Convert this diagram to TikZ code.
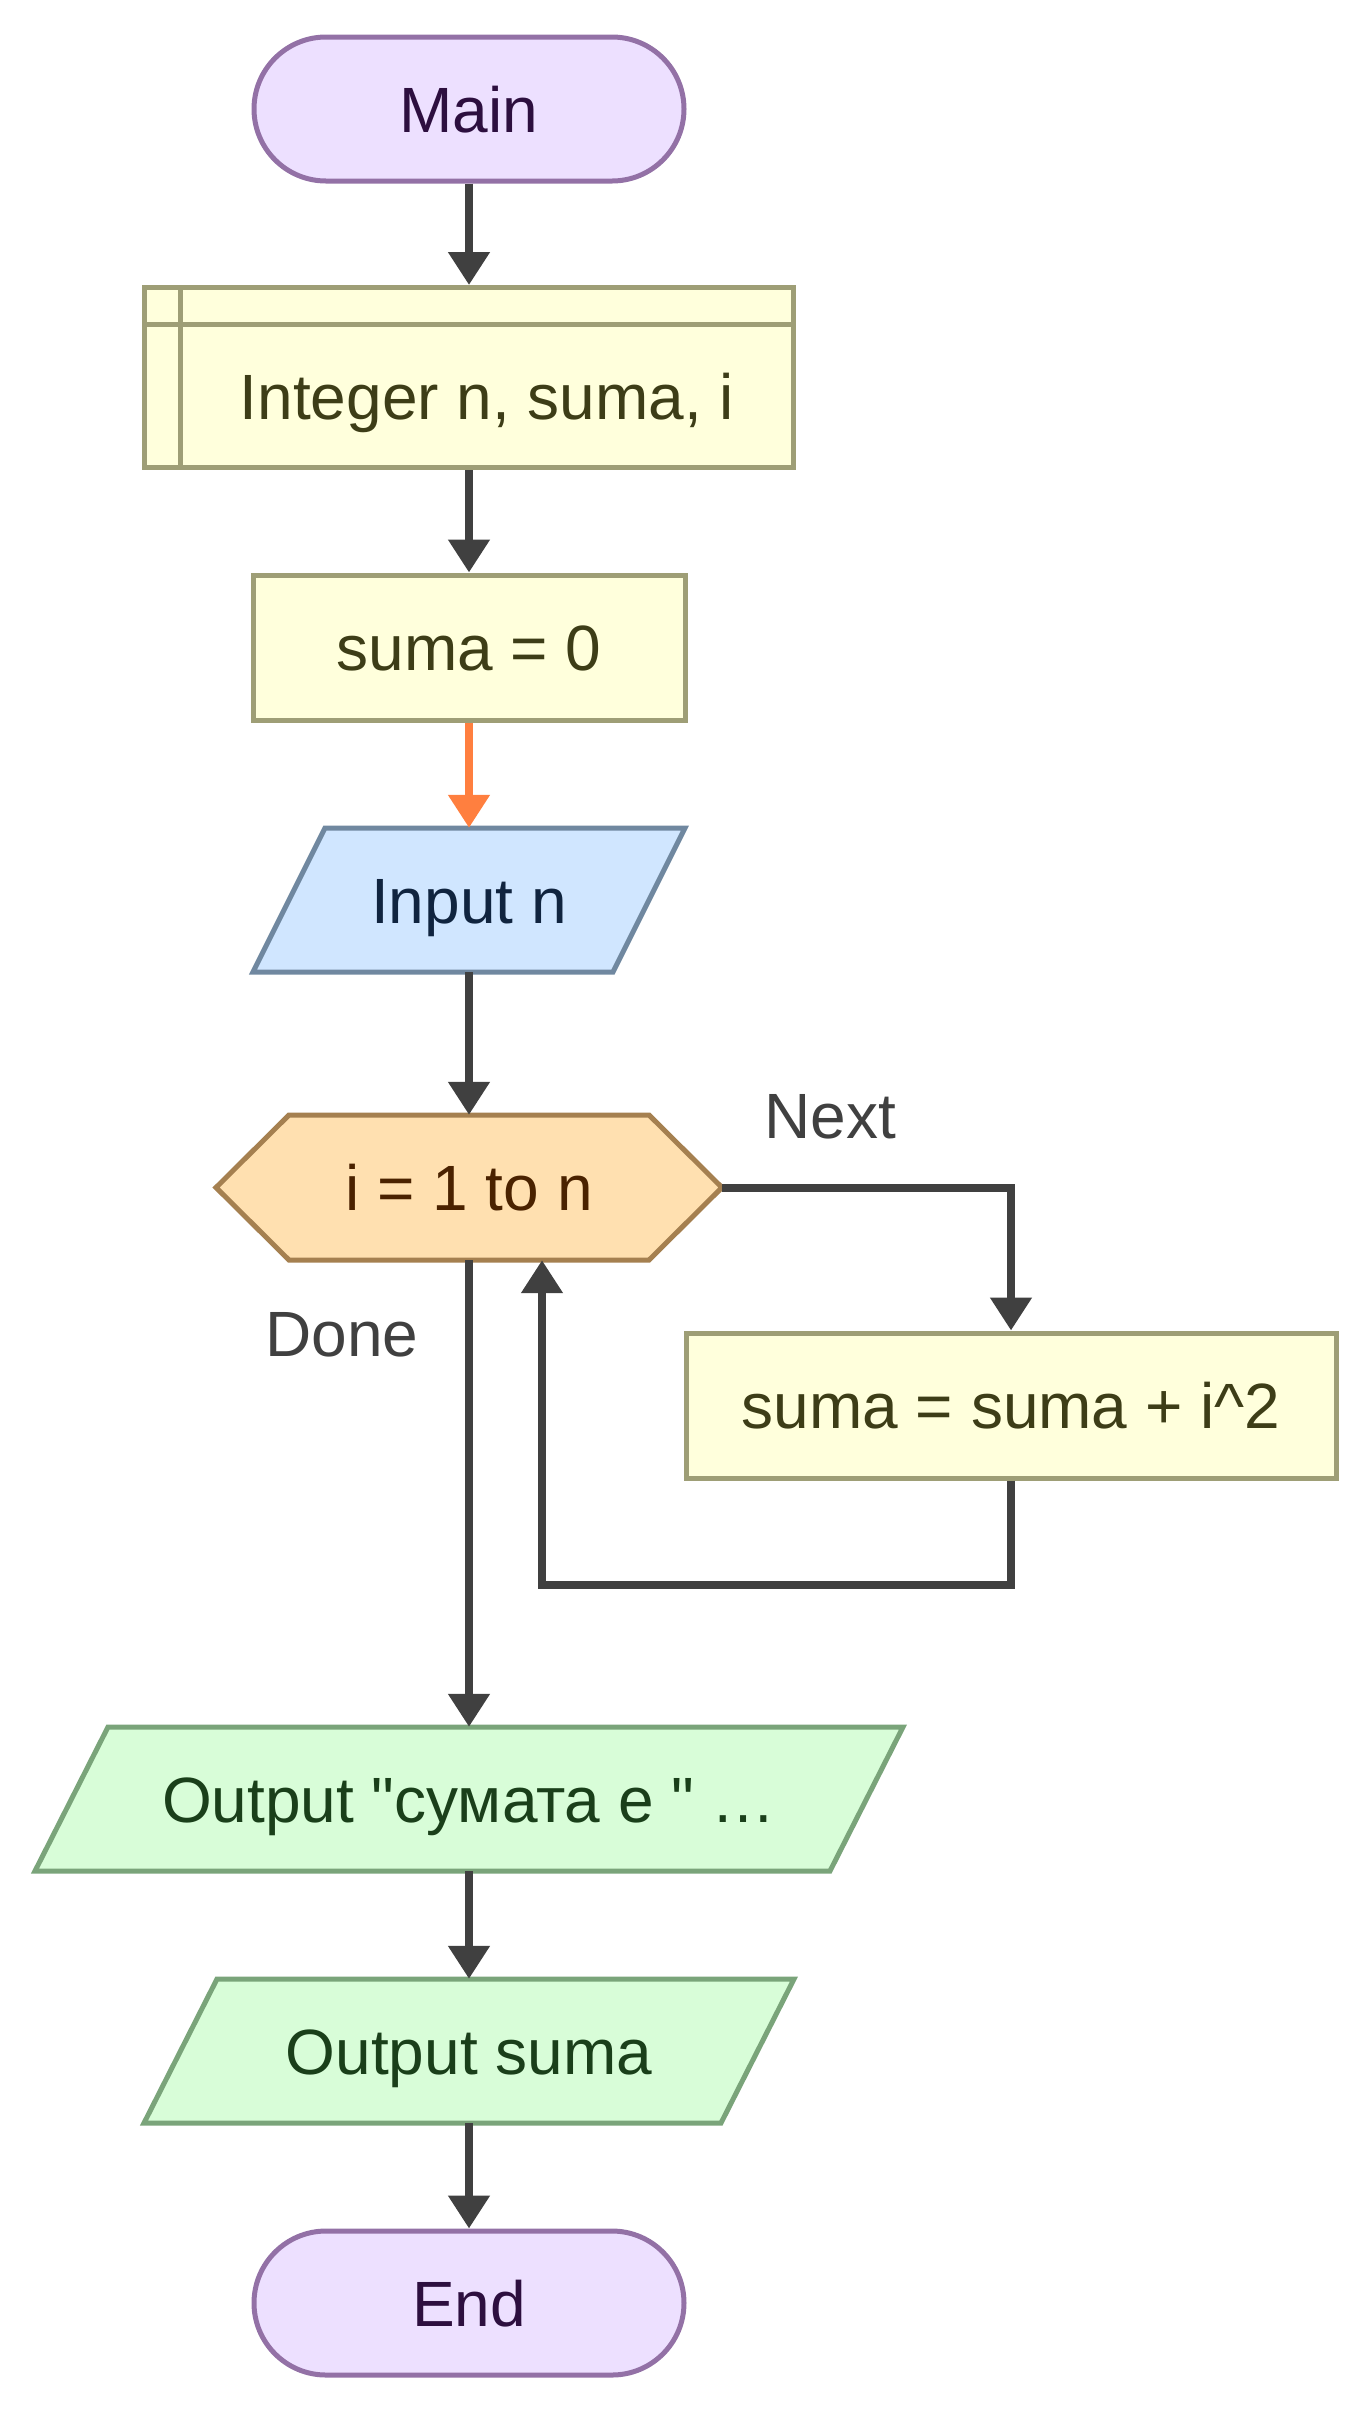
\documentclass[tikz,border=0pt]{standalone}
\usepackage{fontspec}
\newfontfamily\lib{Liberation Sans}
\usetikzlibrary{arrows.meta}
\definecolor{termF}{HTML}{EDE0FF}
\definecolor{termB}{HTML}{9371A6}
\definecolor{termT}{HTML}{2D0F3F}
\definecolor{procF}{HTML}{FFFFDC}
\definecolor{procB}{HTML}{9E9E76}
\definecolor{procT}{HTML}{3D3D17}
\definecolor{ioF}{HTML}{D0E6FF}
\definecolor{ioB}{HTML}{7088A0}
\definecolor{ioT}{HTML}{10243F}
\definecolor{loopF}{HTML}{FFE0B0}
\definecolor{loopB}{HTML}{A58050}
\definecolor{loopT}{HTML}{4A2200}
\definecolor{outF}{HTML}{D8FDD8}
\definecolor{outB}{HTML}{7AA47A}
\definecolor{outT}{HTML}{1A3F1A}
\definecolor{arrC}{HTML}{404040}
\definecolor{orgC}{HTML}{FF7F3F}
\begin{document}
\begin{tikzpicture}[x=1pt,y=-1pt,
  every node/.style={font=\lib\fontsize{64}{77}\selectfont, text height=46pt, text depth=0pt, inner sep=0pt},
  term/.style={draw=termB, fill=termF, text=termT, line width=5pt, rounded corners=72pt, minimum width=430pt, minimum height=144pt},
  proc/.style={draw=procB, fill=procF, text=procT, line width=5pt, minimum height=145pt},
  shp/.style={line width=5pt, line join=miter},
  lbl/.style={text=arrC},
  arr/.style={draw=arrC, line width=8pt, -{Triangle[length=33pt,width=40pt]}},
]
\useasboundingbox (0,0) rectangle (1369,2413);

% Main
\node[term] (main) at (469,109) {Main};

% declaration
\node[proc, minimum width=649pt, minimum height=180pt] (decl) at (469,377.5) {};
\draw[procB, line width=5pt] (180,288) -- (180,467);
\draw[procB, line width=5pt] (144.5,324) -- (793.5,324);
\node[text=procT] (declt) at (487,396) {Integer n, suma, i};

% suma = 0
\node[proc, minimum width=432pt] (s0) at (469,647.5) {suma = 0};

% Input n
\filldraw[shp, draw=ioB, fill=ioF] (325,828) -- (685,828) -- (613,972) -- (253,972) -- cycle;
\node[text=ioT, minimum width=432pt, minimum height=144pt] (inp) at (469,900) {Input n};

% loop hexagon
\filldraw[shp, draw=loopB, fill=loopF] (216,1187.5) -- (289,1115) -- (649,1115) -- (722,1187.5) -- (649,1260) -- (289,1260) -- cycle;
\node[text=loopT, minimum width=506pt, minimum height=145pt] (hex) at (469,1187.5) {i = 1 to n};

% loop body
\node[proc, minimum width=650pt] (body) at (1011,1405.5) {suma = suma + i\textasciicircum 2};

% outputs
\filldraw[shp, draw=outB, fill=outF] (108,1727) -- (903,1727) -- (830,1871) -- (35,1871) -- cycle;
\node[text=outT, minimum width=795pt, minimum height=144pt] (out1) at (469,1799) {Output "сумата е " …};

\filldraw[shp, draw=outB, fill=outF] (217,1979) -- (794,1979) -- (721,2123) -- (144,2123) -- cycle;
\node[text=outT, minimum width=577pt, minimum height=144pt] (out2) at (469,2051) {Output suma};

% End
\node[term] (end) at (469,2303) {End};

% labels
\node[lbl] (next) at (830,1115) {Next};
\node[lbl] (done) at (342,1333) {Done};

% connectors
\draw[arr] (main.south) -- (decl.north);
\draw[arr] (decl.south) -- (s0.north);
\draw[arr, draw=orgC] (s0.south) -- (inp.north);
\draw[arr] (inp.south) -- (hex.north);
\draw[arr] (hex.east) -| (body.north);
\coordinate (lb) at (542,1585);
\draw[arr] (body.south) |- (lb) -- (lb |- hex.south);
\draw[arr] (hex.south) -- (out1.north);
\draw[arr] (out1.south) -- (out2.north);
\draw[arr] (out2.south) -- (end.north);
\end{tikzpicture}
\end{document}
